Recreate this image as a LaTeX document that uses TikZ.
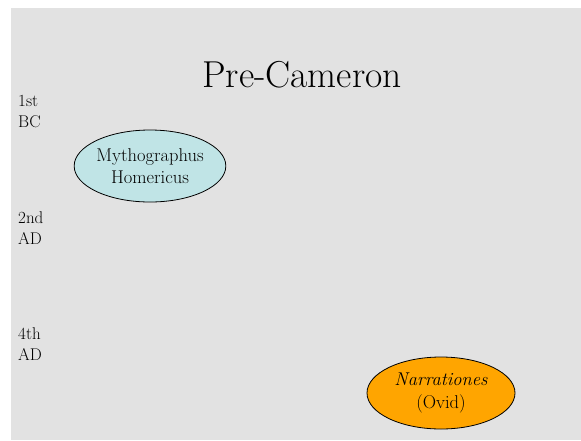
\documentclass[tikz,border=0pt]{standalone}
\usepackage{fontspec}
\usetikzlibrary{shapes.geometric}
\definecolor{slidebg}{RGB}{226,226,226}
\definecolor{cyanfill}{RGB}{192,228,230}
\definecolor{orangefill}{RGB}{255,165,0}
\begin{document}
\begin{tikzpicture}[x=1pt,y=-1pt,
  era/.style={anchor=base west,inner sep=0pt,font=\fontsize{17}{21}\selectfont},
  work/.style={ellipse,draw=black,line width=0.8pt,minimum width=148pt,minimum height=72pt,inner sep=0pt,align=center,font=\fontsize{18.5}{22.5}\selectfont}]
\useasboundingbox (0,0) rectangle (581,440);
\fill[white] (0,0) rectangle (581,440);
\fill[slidebg] (11,8) rectangle (581,440);
\node[anchor=base,inner sep=0pt,font=\fontsize{37.5}{40}\selectfont] (title) at (302,87) {Pre-Cameron};
\node[era] (e1a) at (18,106) {1st};
\node[era] (e1b) at (18,127) {BC};
\node[era] (e2a) at (18,223) {2nd};
\node[era] (e2b) at (18,244) {AD};
\node[era] (e4a) at (18,339) {4th};
\node[era] (e4b) at (18,360) {AD};
\node[work,fill=cyanfill] (myth) at (150,166) {Mythographus\\Homericus};
\node[work,fill=orangefill] (narr) at (441,393) {\itshape Narrationes\\(Ovid)};
\end{tikzpicture}
\end{document}
